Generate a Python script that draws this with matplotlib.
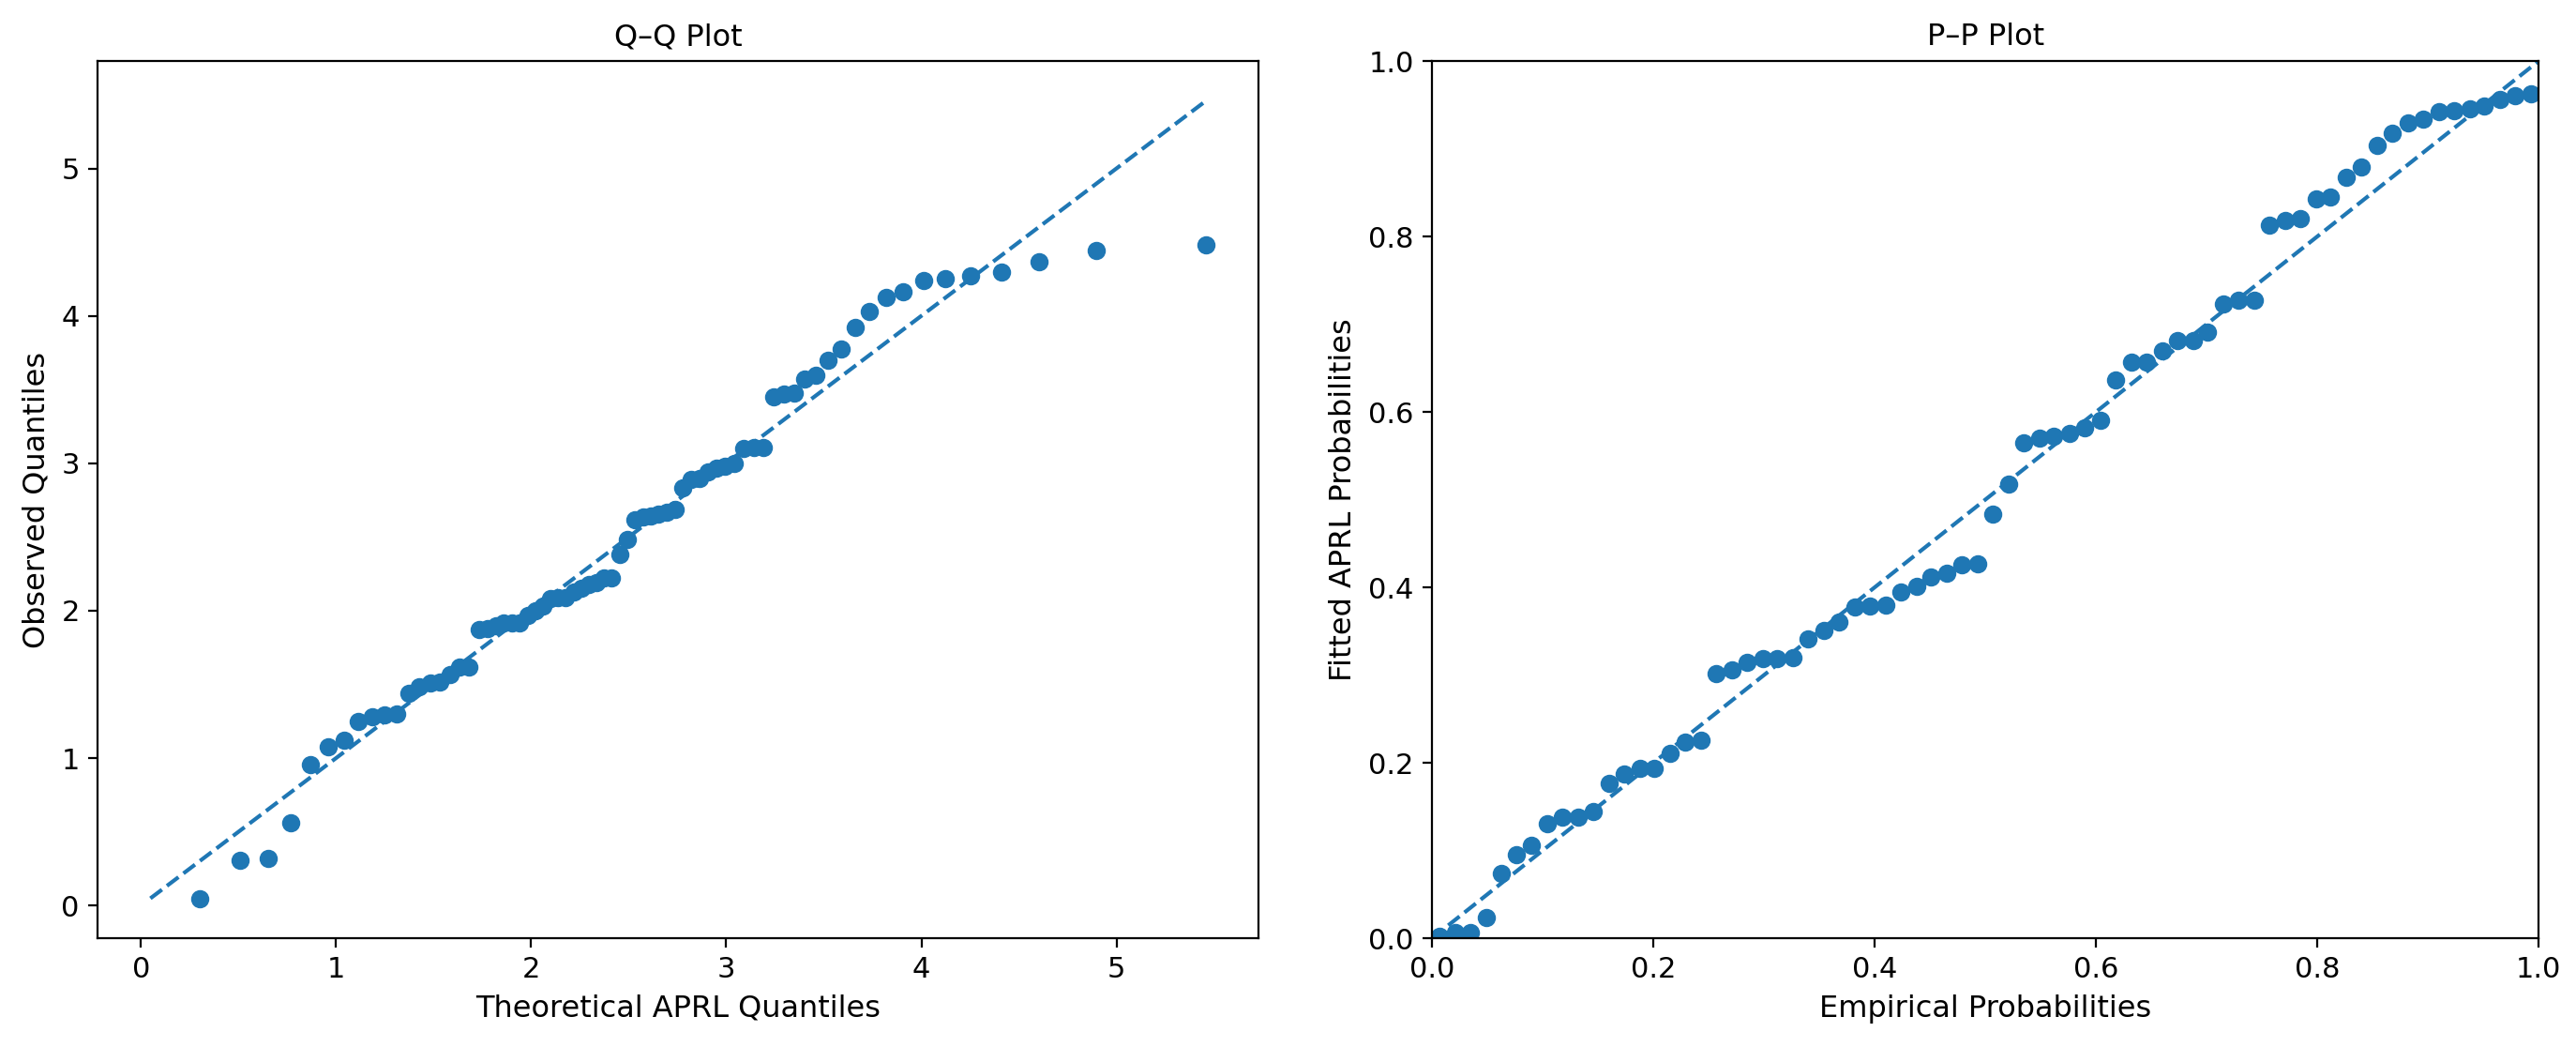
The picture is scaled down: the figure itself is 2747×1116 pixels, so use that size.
import matplotlib
matplotlib.use('Agg')
import matplotlib.pyplot as plt
import numpy as np


theoretical_q = [
    0.30, 0.51, 0.655, 0.77, 0.868, 0.958, 1.04, 1.115, 1.185, 1.25,
    1.313, 1.372, 1.428, 1.482, 1.534, 1.585, 1.634, 1.682, 1.732, 1.776,
    1.819, 1.861, 1.902, 1.942, 1.982, 2.022, 2.061, 2.100, 2.139, 2.178,
    2.217, 2.256, 2.295, 2.334, 2.373, 2.413, 2.453, 2.493, 2.533, 2.573,
    2.613, 2.654, 2.695, 2.736, 2.777, 2.819, 2.862, 2.906, 2.950, 2.995,
    3.040, 3.090, 3.140, 3.190, 3.242, 3.295, 3.349, 3.402, 3.461, 3.522,
    3.590, 3.662, 3.733, 3.819, 3.908, 4.010, 4.121, 4.252, 4.409, 4.605,
    4.895, 5.458,
]
observed_q = [
    0.049, 0.309, 0.319, 0.562, 0.953, 1.076, 1.122, 1.249, 1.281, 1.292,
    1.302, 1.439, 1.482, 1.507, 1.514, 1.566, 1.619, 1.621, 1.873, 1.88,
    1.90, 1.92, 1.92, 1.92, 1.97, 2.00, 2.03, 2.08, 2.09, 2.09,
    2.13, 2.15, 2.18, 2.19, 2.22, 2.22, 2.38, 2.486, 2.62, 2.635,
    2.645, 2.655, 2.67, 2.69, 2.834, 2.89, 2.90, 2.94, 2.97, 2.98,
    3.00, 3.10, 3.11, 3.11, 3.448, 3.469, 3.479, 3.574, 3.596, 3.701,
    3.775, 3.923, 4.028, 4.124, 4.166, 4.240, 4.250, 4.272, 4.297, 4.367,
    4.441, 4.483,
]

# P-P plot values
empirical_p = [
    0.007, 0.021, 0.035, 0.049, 0.063, 0.076, 0.090, 0.104, 0.118, 0.132,
    0.146, 0.160, 0.174, 0.188, 0.201, 0.215, 0.229, 0.243, 0.257, 0.271,
    0.285, 0.299, 0.312, 0.326, 0.340, 0.354, 0.368, 0.382, 0.396, 0.410,
    0.424, 0.438, 0.451, 0.465, 0.479, 0.493, 0.507, 0.521, 0.535, 0.549,
    0.562, 0.576, 0.590, 0.604, 0.618, 0.632, 0.646, 0.660, 0.674, 0.688,
    0.701, 0.715, 0.729, 0.743, 0.757, 0.771, 0.785, 0.799, 0.812, 0.826,
    0.840, 0.854, 0.868, 0.882, 0.896, 0.910, 0.924, 0.938, 0.951, 0.965,
    0.979, 0.993,
]
fitted_p = [
    0.002, 0.007, 0.007, 0.024, 0.074, 0.095, 0.106, 0.131, 0.138, 0.138,
    0.144, 0.176, 0.187, 0.194, 0.194, 0.211, 0.224, 0.226, 0.302, 0.306,
    0.314, 0.319, 0.319, 0.320, 0.341, 0.351, 0.361, 0.378, 0.379, 0.380,
    0.395, 0.401, 0.412, 0.416, 0.426, 0.427, 0.484, 0.518, 0.565, 0.570,
    0.572, 0.575, 0.582, 0.590, 0.636, 0.657, 0.657, 0.670, 0.681, 0.681,
    0.691, 0.723, 0.727, 0.727, 0.813, 0.818, 0.820, 0.843, 0.845, 0.867,
    0.879, 0.904, 0.918, 0.929, 0.934, 0.942, 0.943, 0.945, 0.949, 0.956,
    0.961, 0.963,
]

color = '#1f77b4'
text_size = 11.5
tick_size = 11

fig = plt.figure(figsize=(13.735, 5.58), dpi=200)
ax_qq = fig.add_axes([0.0379, 0.1039, 0.4507, 0.8378])
ax_pp = fig.add_axes([0.5559, 0.1039, 0.4296, 0.8378])

# Q-Q
tq = np.array(theoretical_q)
oq = np.array(observed_q)
ax_qq.scatter(tq, oq, s=36, color=color)
lo = min(tq.min(), oq.min())
hi = max(tq.max(), oq.max())
ax_qq.plot([lo, hi], [lo, hi], '--', color=color, lw=1.5)
ax_qq.set_title('Q–Q Plot', fontsize=text_size)
ax_qq.set_xlabel('Theoretical APRL Quantiles', fontsize=text_size)
ax_qq.set_ylabel('Observed Quantiles', fontsize=text_size)
ax_qq.tick_params(labelsize=tick_size)

# P-P
ax_pp.scatter(empirical_p, fitted_p, s=36, color=color)
ax_pp.plot([0, 1], [0, 1], '--', color=color, lw=1.5)
ax_pp.set_xlim(0, 1)
ax_pp.set_ylim(0, 1)
ax_pp.set_title('P–P Plot', fontsize=text_size)
ax_pp.set_xlabel('Empirical Probabilities', fontsize=text_size)
ax_pp.set_ylabel('Fitted APRL Probabilities', fontsize=text_size)
ax_pp.tick_params(labelsize=tick_size)

fig.savefig('out.png', dpi=200)
